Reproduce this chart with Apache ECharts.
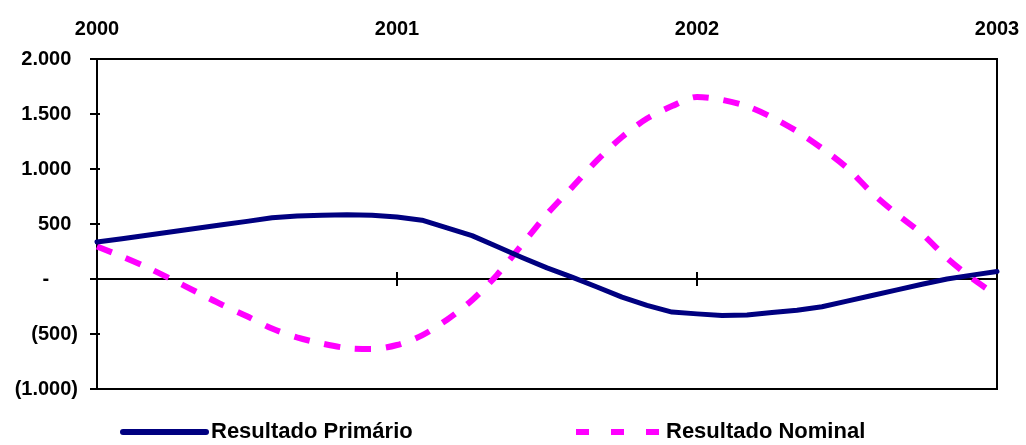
<!DOCTYPE html>
<html>
<head>
<meta charset="utf-8">
<script src="https://cdn.jsdelivr.net/npm/echarts@6/dist/echarts.min.js"></script>
<style>html,body{margin:0;padding:0;background:#fff;}#c{width:1026px;height:445px;}</style>
</head>
<body>
<div id="c"></div>
<script>
const months = ['2000-01','2000-02','2000-03','2000-04','2000-05','2000-06','2000-07','2000-08','2000-09','2000-10','2000-11','2000-12',
  '2001-01','2001-02','2001-03','2001-04','2001-05','2001-06','2001-07','2001-08','2001-09','2001-10','2001-11','2001-12',
  '2002-01','2002-02','2002-03','2002-04','2002-05','2002-06','2002-07','2002-08','2002-09','2002-10','2002-11','2002-12',
  '2003-01'];
const primario = [336,366,398,429,461,493,524,556,573,579,585,580,563,535,464,394,296,196,101,17,-73,-165,-239,-301,-317,-332,-327,-305,-284,-252,-201,-150,-99,-48,0,35,69];
const nominal = [295,205,106,-5,-120,-234,-339,-451,-531,-587,-628,-637,-600,-512,-370,-193,37,313,590,833,1078,1291,1459,1572,1655,1629,1570,1470,1343,1188,1011,783,589,411,191,6,-150];
const seriesNames = ['Resultado Primário','Resultado Nominal'];

const FONT = '"Liberation Sans", Arial, sans-serif';
function fmtNum(a){
  return a >= 1000 ? Math.floor(a/1000) + '.' + String(a%1000).padStart(3,'0') : String(a);
}
function yFmt(v){
  if (v > 0) return '{t|' + fmtNum(v) + '}{h|)}';
  if (v < 0) return '{t|(' + fmtNum(-v) + ')}';
  return '{t|-}{h|00)}';
}
const labelStyle = {fontSize:20, fontWeight:'bold', color:'#000', fontFamily:FONT};
const legendText = {fontSize:22, fontWeight:'bold', color:'#000', fontFamily:FONT};

const chart = echarts.init(document.getElementById('c'), null, {renderer:'canvas'});
chart.setOption({
  animation:false,
  backgroundColor:'#fff',
  grid:{left:97, right:29, top:59, bottom:56, show:true, borderColor:'#000', borderWidth:2, backgroundColor:'transparent'},
  legend:[
    {data:[seriesNames[0]], left:120, top:421, padding:0, itemWidth:83, itemHeight:22, itemGap:0,
     itemStyle:{opacity:0}, lineStyle:{width:6, cap:'round'},
     textStyle:legendText},
    {data:[seriesNames[1]], left:573, top:421, padding:0, itemWidth:85, itemHeight:22, itemGap:0,
     itemStyle:{opacity:0}, lineStyle:{width:6, type:[13,22], cap:'butt'},
     textStyle:legendText}
  ],
  xAxis:[
    {type:'category', data:months, boundaryGap:false, position:'bottom',
     axisLine:{show:true, onZero:true, lineStyle:{color:'#000', width:2}},
     axisTick:{show:true, interval:11, length:7, inside:false, lineStyle:{color:'#000', width:2}},
     axisLabel:{show:false}, splitLine:{show:false}},
    {type:'category', data:months, boundaryGap:false, position:'bottom',
     axisLine:{show:false, onZero:true},
     axisTick:{show:true, interval:11, length:7, inside:true, lineStyle:{color:'#000', width:2}},
     axisLabel:{show:false}, splitLine:{show:false}},
    {type:'category', data:months, boundaryGap:false, position:'top',
     axisLine:{show:false, onZero:false}, axisTick:{show:false},
     axisLabel:Object.assign({show:true, interval:11, margin:20, formatter:v=>v.slice(0,4)}, labelStyle),
     splitLine:{show:false}}
  ],
  yAxis:[
    {type:'value', min:-1000, max:2000, interval:500,
     axisLine:{show:true, lineStyle:{color:'#000', width:2}},
     axisTick:{show:true, length:7, inside:false, lineStyle:{color:'#000', width:2}},
     splitLine:{show:false},
     axisLabel:{margin:19, formatter:yFmt, rich:{t:labelStyle, h:Object.assign({}, labelStyle, {color:'transparent'})}}},
    {type:'value', min:-1000, max:2000, interval:500, position:'left',
     axisLine:{show:false}, axisTick:{show:true, length:3, inside:true, lineStyle:{color:'#000', width:2}},
     splitLine:{show:false}, axisLabel:{show:false}}
  ],
  series:[
    {name:seriesNames[0], type:'line', data:primario, xAxisIndex:0, yAxisIndex:0, symbol:'none', smooth:false,
     lineStyle:{color:'#000080', width:5, cap:'round', join:'round'}, itemStyle:{color:'#000080'}, z:3},
    {name:seriesNames[1], type:'line', data:nominal, xAxisIndex:0, yAxisIndex:0, symbol:'none', smooth:0.3,
     lineStyle:{color:'#FF00FF', width:6, type:[16,15], cap:'butt'}, itemStyle:{color:'#FF00FF'}, z:2}
  ]
});
</script>
</body>
</html>
